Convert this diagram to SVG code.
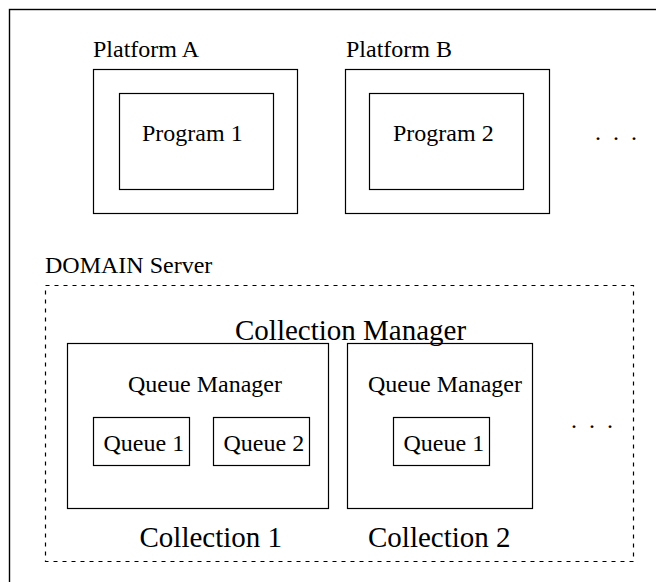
<svg xmlns="http://www.w3.org/2000/svg" width="656" height="582" viewBox="0 0 656 582">
  <style>
    .box { fill: none; stroke: #000; stroke-width: 1.2; }
    .frame { fill: none; stroke: #000; stroke-width: 1.4; }
    .dash { fill: none; stroke: #000; stroke-width: 1.2; stroke-dasharray: 4 5; }
    text { font-family: "Liberation Serif", "Times New Roman", serif; fill: #000; }
    .t { font-size: 24px; }
    .big { font-size: 29px; }
    .dots { font-size: 24px; letter-spacing: 3px; }
  </style>
  <rect width="656" height="582" fill="#fff"/>

  <!-- outer frame, runs past the right and bottom edges -->
  <rect class="frame" x="9.5" y="9.5" width="700" height="700"/>

  <!-- platforms -->
  <g id="platform-a">
    <text class="t" x="93" y="57">Platform A</text>
    <rect class="box" x="93.5" y="69.5" width="204" height="144"/>
  </g>
  <g id="program-1">
    <rect class="box" x="119.5" y="93.5" width="154" height="96"/>
    <text class="t" x="142" y="141">Program 1</text>
  </g>
  <g id="platform-b">
    <text class="t" x="346" y="57">Platform B</text>
    <rect class="box" x="345.5" y="69.5" width="204" height="144"/>
  </g>
  <g id="program-2">
    <rect class="box" x="369.5" y="93.5" width="154" height="96"/>
    <text class="t" x="393" y="141">Program 2</text>
  </g>
  <g id="more-platforms">
    <text class="dots" x="595" y="140">. . .</text>
  </g>

  <!-- DOMAIN server -->
  <g id="domain-server">
    <text class="t" x="45" y="273">DOMAIN Server</text>
    <rect class="dash" x="45.5" y="285.5" width="588" height="276"/>
    <text class="big" x="235" y="339.5">Collection Manager</text>
  </g>

  <g id="collection-1">
    <rect class="box" x="67.5" y="343.5" width="261" height="165"/>
    <text class="t" x="128" y="392">Queue Manager</text>
    <text class="big" x="139.5" y="547">Collection 1</text>
  </g>
  <g id="c1-queue-1">
    <rect class="box" x="93.5" y="417.5" width="96" height="48"/>
    <text class="t" x="103.5" y="451">Queue 1</text>
  </g>
  <g id="c1-queue-2">
    <rect class="box" x="213.5" y="417.5" width="96" height="48"/>
    <text class="t" x="223.5" y="451">Queue 2</text>
  </g>

  <g id="collection-2">
    <rect class="box" x="347.5" y="343.5" width="185" height="165"/>
    <text class="t" x="368" y="392">Queue Manager</text>
    <text class="big" x="368" y="547">Collection 2</text>
  </g>
  <g id="c2-queue-1">
    <rect class="box" x="393.5" y="417.5" width="96" height="48"/>
    <text class="t" x="403.5" y="451">Queue 1</text>
  </g>
  <g id="more-collections">
    <text class="dots" x="571" y="428">. . .</text>
  </g>

  <!-- no connectors in this diagram -->
  <g id="connectors"/>
</svg>
